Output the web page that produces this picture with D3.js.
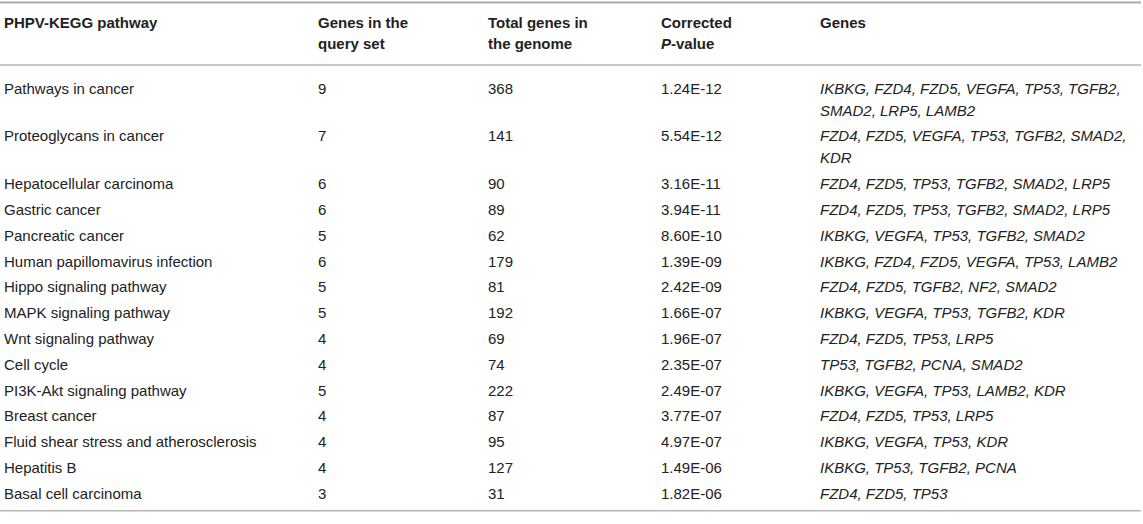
<!DOCTYPE html>
<html>
<head>
<meta charset="utf-8">
<script src="https://cdn.jsdelivr.net/npm/d3@7"></script>
<style>
  html, body { margin: 0; padding: 0; background: #fff; }
  svg text { font-family: "Liberation Sans", Arial, Helvetica, sans-serif; font-size: 15px; fill: #222; }
</style>
</head>
<body>
<svg id="chart" width="1143" height="524"></svg>
<script>
// ---- data ----
const pathways = [
  "Pathways in cancer", "Proteoglycans in cancer", "Hepatocellular carcinoma", "Gastric cancer",
  "Pancreatic cancer", "Human papillomavirus infection", "Hippo signaling pathway",
  "MAPK signaling pathway", "Wnt signaling pathway", "Cell cycle", "PI3K-Akt signaling pathway",
  "Breast cancer", "Fluid shear stress and atherosclerosis", "Hepatitis B", "Basal cell carcinoma"
];
const queryGenes = [9, 7, 6, 6, 5, 6, 5, 5, 4, 4, 5, 4, 4, 4, 3];
const genomeGenes = [368, 141, 90, 89, 62, 179, 81, 192, 69, 74, 222, 87, 95, 127, 31];
const pValues = ["1.24E-12", "5.54E-12", "3.16E-11", "3.94E-11", "8.60E-10", "1.39E-09", "2.42E-09",
  "1.66E-07", "1.96E-07", "2.35E-07", "2.49E-07", "3.77E-07", "4.97E-07", "1.49E-06", "1.82E-06"];
const genes = [
  "IKBKG, FZD4, FZD5, VEGFA, TP53, TGFB2, SMAD2, LRP5, LAMB2",
  "FZD4, FZD5, VEGFA, TP53, TGFB2, SMAD2, KDR",
  "FZD4, FZD5, TP53, TGFB2, SMAD2, LRP5",
  "FZD4, FZD5, TP53, TGFB2, SMAD2, LRP5",
  "IKBKG, VEGFA, TP53, TGFB2, SMAD2",
  "IKBKG, FZD4, FZD5, VEGFA, TP53, LAMB2",
  "FZD4, FZD5, TGFB2, NF2, SMAD2",
  "IKBKG, VEGFA, TP53, TGFB2, KDR",
  "FZD4, FZD5, TP53, LRP5",
  "TP53, TGFB2, PCNA, SMAD2",
  "IKBKG, VEGFA, TP53, LAMB2, KDR",
  "FZD4, FZD5, TP53, LRP5",
  "IKBKG, VEGFA, TP53, KDR",
  "IKBKG, TP53, TGFB2, PCNA",
  "FZD4, FZD5, TP53"
];
const headers = [
  [[{t: "PHPV-KEGG pathway"}]],
  [[{t: "Genes in the"}], [{t: "query set"}]],
  [[{t: "Total genes in"}], [{t: "the genome"}]],
  [[{t: "Corrected"}], [{t: "P", i: true}, {t: "-value"}]],
  [[{t: "Genes"}]]
];
const columnKeys = ["pathway", "query", "genome", "p", "genes"];

// ---- layout ----
const W = 1143;
const svg = d3.select("#chart");
const colX = {pathway: 4, query: 318, genome: 488, p: 661, genes: 820};
const genesWidth = 318;
const lineGap = 22, rowBase = 25.8, firstOffset = 23, baseShift = 5.5;
const topLineY = 2.5, headLineY = 65;

// top rule
svg.append("line").attr("x1", 0).attr("x2", W - 2).attr("y1", topLineY).attr("y2", topLineY)
  .attr("stroke", "#aaa").attr("stroke-width", 2);

// header
const headerCenters = [22, 43];
headers.forEach((lines, c) => {
  lines.forEach((parts, li) => {
    const t = svg.append("text")
      .attr("x", colX[columnKeys[c]])
      .attr("y", headerCenters[li] + baseShift)
      .style("font-weight", "bold");
    parts.forEach(p => {
      t.append("tspan").text(p.t).style("font-style", p.i ? "italic" : "normal");
    });
  });
});
svg.append("line").attr("x1", 0).attr("x2", W - 2).attr("y1", headLineY).attr("y2", headLineY)
  .attr("stroke", "#b5b5b5").attr("stroke-width", 1.5);

// wrap helper
const measure = svg.append("text").style("font-style", "italic").attr("opacity", 0);
function wrap(str, width) {
  const words = str.split(" ");
  const out = [];
  let cur = "";
  words.forEach(w => {
    const trial = cur ? cur + " " + w : w;
    measure.text(trial);
    if (cur && measure.node().getComputedTextLength() > width) {
      out.push(cur);
      cur = w;
    } else cur = trial;
  });
  if (cur) out.push(cur);
  return out;
}
const geneLines = genes.map(g => wrap(g, genesWidth));
measure.remove();

// rows
const rows = pathways.map((p, i) => ({
  pathway: p, query: queryGenes[i], genome: genomeGenes[i], p: pValues[i], lines: geneLines[i]
}));
let yCursor = headLineY + firstOffset;
rows.forEach(r => {
  r.y = yCursor;
  yCursor += rowBase + lineGap * (r.lines.length - 1);
});
const lastCenter = rows[rows.length - 1].y;

const rowG = svg.selectAll("g.row").data(rows).join("g").attr("class", "row");
["pathway", "query", "genome", "p"].forEach(k => {
  rowG.append("text")
    .attr("x", colX[k])
    .attr("y", d => d.y + baseShift)
    .text(d => d[k]);
});
rowG.each(function(d) {
  const g = d3.select(this);
  d.lines.forEach((ln, li) => {
    g.append("text")
      .attr("x", colX.genes)
      .attr("y", d.y + li * lineGap + baseShift)
      .style("font-style", "italic")
      .text(ln);
  });
});

// bottom rule
const bottomY = lastCenter + 17.5;
svg.append("line").attr("x1", 0).attr("x2", W - 2).attr("y1", bottomY).attr("y2", bottomY)
  .attr("stroke", "#b5b5b5").attr("stroke-width", 1.5);
</script>
</body>
</html>
